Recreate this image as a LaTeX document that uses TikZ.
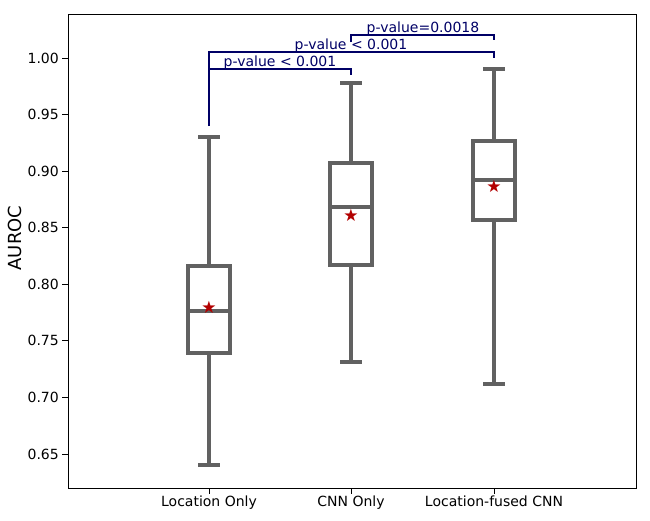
\documentclass[tikz,border=0pt]{standalone}
\usepackage{fontspec}
\setmainfont{DejaVu Sans}
\begin{document}
\begin{tikzpicture}[x=1pt,y=-1pt,
  bx/.style={draw=black!62,line width=3.2pt},
  br/.style={draw=blue!40!black,line width=1.1pt},
  tick/.style={font=\fontsize{14}{14}\selectfont},
  pv/.style={font=\fontsize{14}{14}\selectfont,text=blue!40!black,inner sep=0pt},
  st/.style={font=\fontsize{17}{17}\selectfont,text=red!70!black,inner sep=0pt}]
\useasboundingbox (0,0) rectangle (650,520);
\draw[line width=1pt] (68,14) rectangle (636,488);
% y ticks
\foreach \v/\l in {0/1.00,1/0.95,2/0.90,3/0.85,4/0.80,5/0.75,6/0.70,7/0.65}{
  \draw[line width=1pt] (68,{58+56.57*\v}) -- (62,{58+56.57*\v});
  \node[tick,anchor=east,inner sep=1pt] (yt\v) at (60,{58+56.57*\v}) {\l};}
\node[rotate=90,font=\fontsize{18}{18}\selectfont] (ylab) at (15,238) {AUROC};
% x ticks
\foreach \x/\l/\n in {209/Location Only/a,351/CNN Only/b,494/Location-fused CNN/c}{
  \draw[line width=1pt] (\x,488) -- (\x,494);
  \node[tick,anchor=north] (xt\n) at (\x,492) {\l};}
% boxes
\foreach \x/\lo/\qa/\me/\qb/\hi/\mn/\n in {209/465/353/311/266/137/307/a,351/362/265/207/163/83/215/b,494/384/220/180/141/69/186/c}{
  \draw[bx] (\x,\lo) -- (\x,\qa) (\x,\qb) -- (\x,\hi);
  \draw[bx] (\x-11,\lo) -- (\x+11,\lo) (\x-11,\hi) -- (\x+11,\hi);
  \draw[bx] (\x-21,\qa) rectangle (\x+21,\qb);
  \draw[bx] (\x-21,\me) -- (\x+21,\me);
  \node[st] (m\n) at (\x,\mn) {★};}
% brackets
\draw[br] (209,126) -- (209,69) -- (351,69) -- (351,75);
\node[pv,anchor=base] (p1) at (280,66) {p-value < 0.001};
\draw[br] (209,69) -- (209,52) -- (494,52) -- (494,58);
\node[pv,anchor=base] (p2) at (351,49) {p-value < 0.001};
\draw[br] (351,42) -- (351,35) -- (494,35) -- (494,40);
\node[pv,anchor=base] (p3) at (423,32) {p-value=0.0018};
\end{tikzpicture}
\end{document}
